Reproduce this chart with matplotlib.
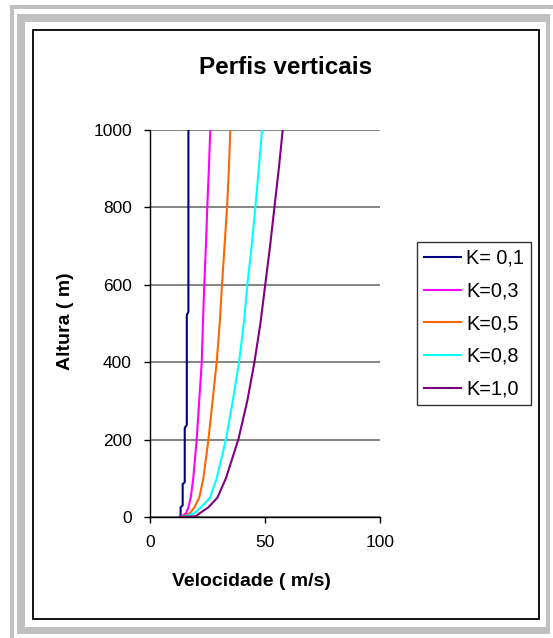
import matplotlib
matplotlib.use("Agg")
import matplotlib.pyplot as plt
from matplotlib.patches import Rectangle

plt.rcParams['font.family'] = ['Liberation Sans', 'DejaVu Sans']

# ---- data ----
labels = ["K= 0,1", "K=0,3", "K=0,5", "K=0,8", "K=1,0"]
colors = ["#000080", "#FF00FF", "#FF6600", "#00FFFF", "#800080"]

h_k01 = [0, 3, 25, 30, 85, 90, 230, 238, 522, 530, 1000]
v_k01 = [12.8, 13.3, 13.3, 14.2, 14.2, 15.1, 15.1, 16.0, 16.0, 16.7, 16.7]

h_common = [0, 2, 10, 25, 50, 100, 200, 300, 400, 500, 600, 700, 800, 900, 1000]
v_k03 = [13.0, 14.0, 15.7, 16.7, 17.7, 18.8, 20.3, 21.4, 22.5, 23.0, 23.6, 24.3, 24.9, 25.6, 26.2]
v_k05 = [13.0, 14.5, 17.4, 19.3, 21.4, 23.2, 25.4, 27.2, 29.0, 30.3, 31.3, 32.4, 33.5, 34.3, 34.9]
v_k08 = [13.0, 15.5, 19.3, 22.2, 26.1, 29.0, 33.0, 36.0, 38.7, 40.8, 42.3, 44.2, 45.8, 47.3, 48.7]
v_k10 = [13.0, 20.0, 21.7, 25.4, 29.3, 33.0, 38.4, 42.3, 45.4, 48.0, 50.1, 52.2, 54.1, 56.0, 57.7]

series = [(v_k01, h_k01), (v_k03, h_common), (v_k05, h_common),
          (v_k08, h_common), (v_k10, h_common)]

title = "Perfis verticais"
xlabel = "Velocidade ( m/s)"
ylabel = "Altura ( m)"
xticks = [0, 50, 100]
yticks = [0, 200, 400, 600, 800, 1000]

W, H = 553, 638
fig = plt.figure(figsize=(W / 100, H / 100), dpi=100)
fig.patch.set_facecolor("white")

def px_rect(x0, y0, x1, y1, **kw):
    fig.patches.append(Rectangle((x0 / W, 1 - y1 / H), (x1 - x0) / W, (y1 - y0) / H,
                                 transform=fig.transFigure, figure=fig, **kw))

gray = "#C0C0C0"
# outer band
px_rect(10, 5, W, 9, facecolor=gray, edgecolor="none")
px_rect(10, 5, 14, H, facecolor=gray, edgecolor="none")
# second band
px_rect(17, 14, 550, 22, facecolor=gray, edgecolor="none")
px_rect(17, 14, 25, 634, facecolor=gray, edgecolor="none")
px_rect(17, 627, 550, 634, facecolor=gray, edgecolor="none")
px_rect(546, 14, 550, 634, facecolor=gray, edgecolor="none")
# chart area border
px_rect(33, 29.5, 539, 619, facecolor="none", edgecolor="black", linewidth=1.3)

ax = fig.add_axes([150 / W, 1 - 517 / H, 230 / W, 387 / H])
for (v, h), c, lab in zip(series, colors, labels):
    ax.plot(v, h, color=c, linewidth=1.5, label=lab)

ax.set_xlim(0, 100)
ax.set_ylim(0, 1000)
ax.set_xticks(xticks)
ax.set_yticks(yticks)
ax.yaxis.grid(True, color="#707070", linewidth=1.2)
ax.set_axisbelow(True)
for s in ["top", "right"]:
    ax.spines[s].set_visible(False)
for s in ["left", "bottom"]:
    ax.spines[s].set_color("black")
    ax.spines[s].set_linewidth(1)
ax.tick_params(axis="both", direction="out", length=4, width=1, labelsize=12.5, colors="black")
ax.tick_params(axis="y", pad=9)
ax.tick_params(axis="x", pad=9)

fig.text(286 / W, 1 - 67 / H, title, ha="center", va="center", fontsize=17.5, fontweight="bold")
fig.text(251 / W, 1 - 582 / H, xlabel, ha="center", va="center", fontsize=14, fontweight="bold")
fig.text(66 / W, 1 - 321 / H, ylabel, ha="center", va="center", fontsize=14, fontweight="bold", rotation=90)

leg = fig.legend(loc="upper left", bbox_to_anchor=(417 / W, 1 - 242 / H), fontsize=14.3,
                 frameon=True, fancybox=False, edgecolor="black", handlelength=1.9,
                 handletextpad=0.25, labelspacing=0.69, borderpad=0.34, borderaxespad=0)
leg.get_frame().set_linewidth(1)

fig.savefig("out.png", dpi=100)
